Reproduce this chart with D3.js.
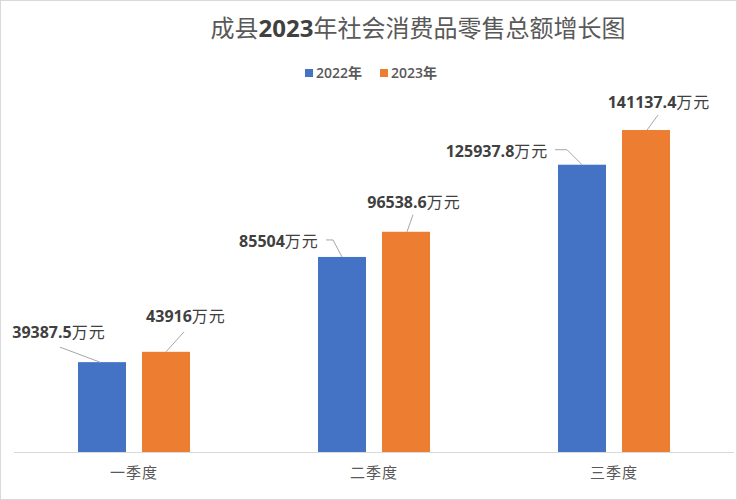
<!DOCTYPE html>
<html>
<head>
<meta charset="utf-8">
<script src="https://cdn.jsdelivr.net/npm/d3@7"></script>
<style>
  body { margin: 0; background: #fff; }
  svg { display: block; }
  text { font-family: "Open Sans", "Noto Sans CJK SC", sans-serif; }
</style>
</head>
<body>
<svg id="chart" width="737" height="500"></svg>
<script>
// --- data
const categories = ['一季度', '二季度', '三季度'];
const seriesNames = ['2022年', '2023年'];
const values2022 = [39387.5, 85504, 125937.8];
const values2023 = [43916, 96538.6, 141137.4];
const labels2022 = ['39387.5', '85504', '125937.8'];
const labels2023 = ['43916', '96538.6', '141137.4'];
const unit = '万元';

// label placement relative to bar top (layout only)
const labelOffsets = [
  [{dx: -43, dy: -30, line: [[-42, -15], [-2, 0]]}, {dx: 20, dy: -35, line: [[18, -20], [0, 0]]}],
  [{dx: -63, dy: -16, line: [[-16, -17], [-9, -17], [0, 0]]}, {dx: 8, dy: -29, line: [[7, -17], [1, 0]]}],
  [{dx: -85, dy: -13, line: [[-27, -15], [-15, -15], [0, 0]]}, {dx: 13, dy: -28, line: [[12, -15], [1, 0]]}]
];

const COLORS = ['#4472c4', '#ed7d31'];
const WIDTH = 737, HEIGHT = 500;
const plot = {left: 14, right: 734, top: 87, bottom: 452};

const svg = d3.select('#chart');

svg.append('rect')
  .attr('x', 0.5).attr('y', 0.5)
  .attr('width', WIDTH - 1).attr('height', HEIGHT - 1)
  .attr('fill', '#fff')
  .attr('stroke', '#d9d9d9');

// --- scales
const x0 = d3.scaleBand()
  .domain(categories)
  .range([plot.left, plot.right]);

const x1 = d3.scaleBand()
  .domain(seriesNames)
  .range([0, 112])
  .paddingInner(0.25);

const y = d3.scaleLinear()
  .domain([0, 160000])
  .range([plot.bottom, plot.top]);

const rows = categories.map((c, i) => ({
  cat: c,
  bars: [
    {s: seriesNames[0], v: values2022[i], label: labels2022[i], off: labelOffsets[i][0], color: COLORS[0]},
    {s: seriesNames[1], v: values2023[i], label: labels2023[i], off: labelOffsets[i][1], color: COLORS[1]}
  ]
}));

// --- title
const title = svg.append('text')
  .attr('x', 418)
  .attr('y', 37)
  .attr('text-anchor', 'middle')
  .attr('font-size', 24)
  .attr('fill', '#595959');
title.append('tspan').text('成县');
title.append('tspan').attr('font-weight', 'bold').attr('fill', '#404040').text('2023');
title.append('tspan').text('年社会消费品零售总额增长图');

// --- legend
const legend = svg.append('g').attr('transform', 'translate(305, 73)');
const legendItems = legend.selectAll('g')
  .data(seriesNames)
  .enter()
  .append('g')
  .attr('transform', (d, i) => `translate(${i * 75}, 0)`);
legendItems.append('rect')
  .attr('x', 0).attr('y', -4)
  .attr('width', 8).attr('height', 8)
  .attr('fill', (d, i) => COLORS[i]);
legendItems.append('text')
  .attr('x', 11)
  .attr('y', 5)
  .attr('font-size', 14)
  .attr('font-weight', 600)
  .attr('fill', '#595959')
  .text(d => d);

// --- bars
const groups = svg.append('g').selectAll('.group')
  .data(rows)
  .enter()
  .append('g')
  .attr('class', 'group')
  .attr('transform', d => `translate(${x0(d.cat) + (x0.bandwidth() - 112) / 2}, 0)`);

groups.selectAll('rect')
  .data(d => d.bars)
  .enter()
  .append('rect')
  .attr('x', d => x1(d.s))
  .attr('y', d => y(d.v))
  .attr('width', x1.bandwidth())
  .attr('height', d => y(0) - y(d.v))
  .attr('fill', d => d.color);

// --- axis line
svg.append('line')
  .attr('x1', plot.left).attr('x2', plot.right)
  .attr('y1', plot.bottom + 0.5).attr('y2', plot.bottom + 0.5)
  .attr('stroke', '#d9d9d9')
  .attr('stroke-width', 1);

svg.append('g').selectAll('.catLabel')
  .data(categories)
  .enter()
  .append('text')
  .attr('class', 'catLabel')
  .attr('x', d => x0(d) + x0.bandwidth() / 2)
  .attr('y', 478)
  .attr('text-anchor', 'middle')
  .attr('font-size', 15)
  .attr('letter-spacing', 1)
  .attr('fill', '#595959')
  .text(d => d);

// --- data labels with leader lines
const labelLayer = svg.append('g');
rows.forEach(row => {
  const gx = x0(row.cat) + (x0.bandwidth() - 112) / 2;
  row.bars.forEach(b => {
    const cx = gx + x1(b.s) + x1.bandwidth() / 2;
    const cy = y(b.v);
    labelLayer.append('path')
      .attr('d', d3.line()(b.off.line.map(p => [cx + p[0], cy + p[1]])))
      .attr('fill', 'none')
      .attr('stroke', '#a6a6a6')
      .attr('stroke-width', 1);
    const t = labelLayer.append('text')
      .attr('x', cx + b.off.dx)
      .attr('y', cy + b.off.dy)
      .attr('dy', '0.35em')
      .attr('text-anchor', 'middle')
      .attr('font-size', 16)
      .attr('fill', '#404040');
    t.append('tspan').attr('font-weight', 'bold').text(b.label);
    t.append('tspan').attr('letter-spacing', 1).text(unit);
  });
});
</script>
</body>
</html>
